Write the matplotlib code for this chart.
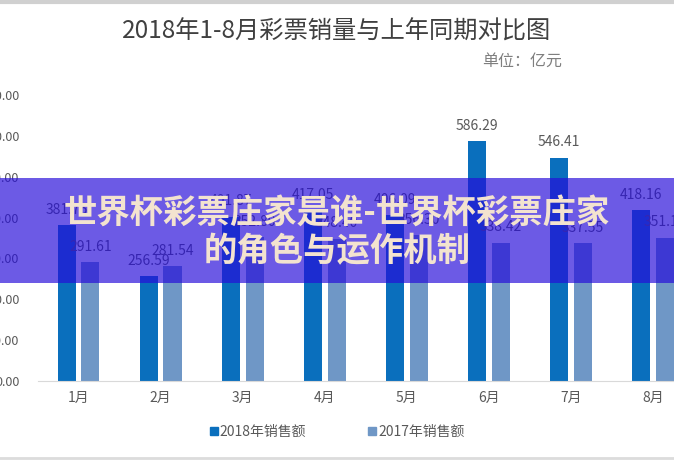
import numpy as np
import matplotlib
matplotlib.use("Agg")
import matplotlib.pyplot as plt
from matplotlib.lines import Line2D
from matplotlib.patches import Rectangle

plt.rcParams['font.family'] = ['Noto Sans CJK SC', 'DejaVu Sans']

# 数据（亿元）
months = ["1月", "2月", "3月", "4月", "5月", "6月", "7月", "8月"]
sales_2018 = [381.75, 256.59, 401.87, 417.05, 406.09, 586.29, 546.41, 418.16]
sales_2017 = [291.61, 281.54, 352.80, 348.40, 356.30, 338.42, 337.55, 351.19]
series_names = ["2018年销售额", "2017年销售额"]
y_ticks = [0, 100, 200, 300, 400, 500, 600, 700]

C18 = "#0a6fbd"
C17 = "#6f97c6"
GRAY = "#595959"

fig = plt.figure(figsize=(6.74, 4.63), dpi=100)
W, H = 674, 463
ax = fig.add_axes([37.5 / W, 1 - 381 / H, 8 * 82.07 / W, (381 - 95) / H])

x = np.arange(len(months))
w = 0.22
off = 0.145
b18 = ax.bar(x - off, sales_2018, w, color=C18)
b17 = ax.bar(x + off, sales_2017, w, color=C17)
for bars, vals in ((b18, sales_2018), (b17, sales_2017)):
    for b, v in zip(bars, vals):
        ax.annotate(f"{v:.2f}", (b.get_x() + b.get_width() / 2, v),
                    xytext=(0, 6), textcoords="offset points",
                    ha="center", va="bottom", fontsize=10, color=GRAY)

ax.set_xlim(-0.5, 7.5)
ax.set_ylim(0, 700)
ax.set_yticks(y_ticks)
ax.set_yticklabels([f"{t:.2f}" for t in y_ticks], fontsize=9, color=GRAY)
ax.set_xticks(x)
ax.set_xticklabels(months, fontsize=10, color=GRAY)
ax.tick_params(axis="y", length=0, pad=13)
ax.tick_params(axis="x", length=0, pad=7)
for s in ("top", "right", "left"):
    ax.spines[s].set_visible(False)
ax.spines["bottom"].set_color("#d9d9d9")

fig.text(0.5, 1 - 32 / H, "2018年1-8月彩票销量与上年同期对比图", ha="center", va="center",
         fontsize=17.5, color="#404040")
fig.text(562 / W, 1 - 61 / H, "单位：亿元", ha="right", va="center",
         fontsize=11.5, color="#7f7f7f")

handles = [Line2D([0], [0], marker="s", color="w", markerfacecolor=c, markeredgecolor=c,
                  markersize=6, label=n) for c, n in zip((C18, C17), series_names)]
fig.legend(handles=handles, loc="center", bbox_to_anchor=(0.5, 1 - 432 / H), ncol=2,
           frameon=False, fontsize=10, handlelength=0.6, handletextpad=0.1,
           columnspacing=4.5, labelcolor=GRAY)

# 边框线
fig.add_artist(Line2D([0, 1], [1 - 1.5 / H, 1 - 1.5 / H], color="#d0d0d0", lw=3))
fig.add_artist(Line2D([0, 1], [1 - 458 / H, 1 - 458 / H], color="#dcdcdc", lw=2))

# 紫色横幅
fig.add_artist(Rectangle((0, 1 - 283 / H), 1, 105 / H, transform=fig.transFigure,
                         facecolor="#260cda", alpha=0.68, edgecolor="none", zorder=10))
fig.text(0.5, 1 - 213 / H, "世界杯彩票庄家是谁-世界杯彩票庄家", ha="center", va="center",
         fontsize=24, fontweight="heavy", color="#f3e3cf", zorder=11)
fig.text(0.5, 1 - 252 / H, "的角色与运作机制", ha="center", va="center",
         fontsize=24, fontweight="heavy", color="#f3e3cf", zorder=11)

fig.savefig("out.png", dpi=100)
